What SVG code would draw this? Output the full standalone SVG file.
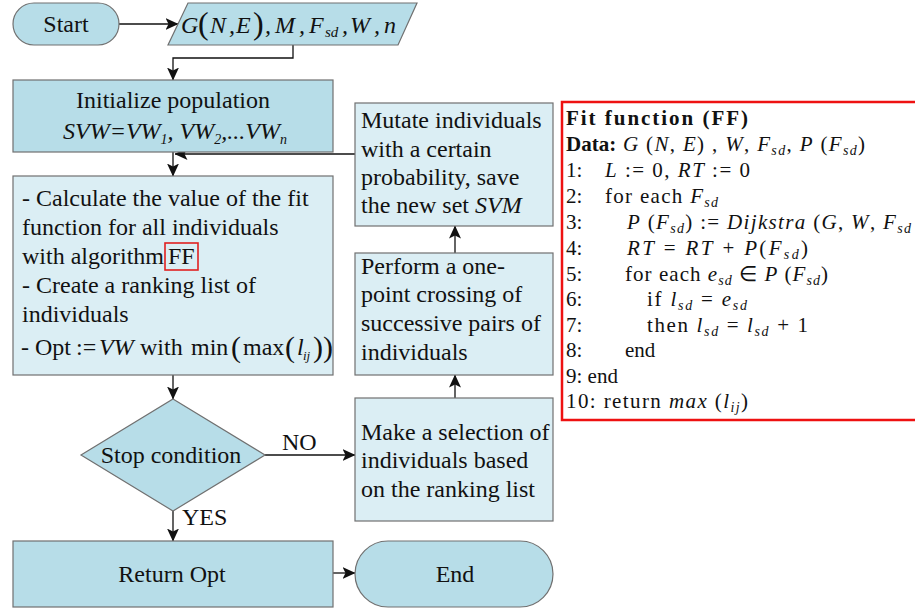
<svg xmlns="http://www.w3.org/2000/svg" width="915" height="608" viewBox="0 0 915 608">
<style>
.dk{fill:#b7dde8;stroke:#707070;stroke-width:1.2}
.lt{fill:#dbeef4;stroke:#707070;stroke-width:1.2}
.t{font-family:"Liberation Serif","Times New Roman",serif;font-size:24px;fill:#111}
.m{font-family:"Liberation Serif","Times New Roman",serif;font-size:21px;fill:#111}
.it{font-style:italic}
.b{font-weight:bold}
.sub{font-size:14px;baseline-shift:-5px}
.subs{font-size:14px;baseline-shift:-4px;font-style:italic}
.c{text-anchor:middle}
.ln{fill:none;stroke:#111;stroke-width:1.3}
</style>
<defs>
<marker id="arr" viewBox="0 0 13 12" refX="12.5" refY="6" markerWidth="13" markerHeight="12" markerUnits="userSpaceOnUse" orient="auto">
<path d="M0,0 L13,6 L0,12 L3,6 z" fill="#111"/>
</marker>
</defs>

<g id="connectors">
<path class="ln" d="M119,24 H178" marker-end="url(#arr)"/>
<path class="ln" d="M293,45 V58 H173 V80" marker-end="url(#arr)"/>
<path class="ln" d="M173,152 V176" marker-end="url(#arr)"/>
<path class="ln" d="M355,154 H175" marker-end="url(#arr)"/>
<path class="ln" d="M173,375 V399" marker-end="url(#arr)"/>
<path class="ln" d="M265,455 H355" marker-end="url(#arr)"/>
<path class="ln" d="M455,398 V375" marker-end="url(#arr)"/>
<path class="ln" d="M455,253 V226" marker-end="url(#arr)"/>
<path class="ln" d="M173,511 V541" marker-end="url(#arr)"/>
<path class="ln" d="M333,573 H355" marker-end="url(#arr)"/>
<text class="t" x="282" y="450">NO</text>
<text class="t" x="182" y="525">YES</text>
</g>

<g id="start">
<rect class="dk" x="13" y="3" width="106" height="42" rx="21" ry="21"/>
<text class="t c" x="66" y="32">Start</text>
</g>

<g id="input">
<polygon class="dk" points="188,3 417,3 398,45 168,45"/>
<text class="t it" y="33"><tspan x="181">G</tspan><tspan x="198" font-size="32" font-style="normal" dy="1">(</tspan><tspan x="210" dy="-1">N</tspan><tspan x="229">,</tspan><tspan x="236">E</tspan><tspan x="253" font-size="32" font-style="normal" dy="1">)</tspan><tspan x="265" dy="-1">,</tspan><tspan x="275">M</tspan><tspan x="299">,</tspan><tspan x="309">F</tspan><tspan x="325" font-size="15" dy="4">sd</tspan><tspan x="342" dy="-4">,</tspan><tspan x="350">W</tspan><tspan x="374">,</tspan><tspan x="384">n</tspan></text>
</g>

<g id="init">
<rect class="dk" x="13" y="80" width="320" height="72"/>
<text class="t c" x="173" y="108">Initialize population</text>
<text class="t c it" x="175" y="139">SVW=VW<tspan class="sub">1</tspan>, VW<tspan class="sub">2</tspan>,...VW<tspan class="sub">n</tspan></text>
</g>

<g id="calc">
<rect class="lt" x="13" y="176" width="320" height="199"/>
<text class="t" x="22" y="206">- Calculate the value of the fit</text>
<text class="t" x="22" y="235">function for all individuals</text>
<text class="t" x="22" y="264">with algorithm <tspan x="168">FF</tspan></text>
<rect x="165" y="243" width="33" height="27" fill="none" stroke="#e02020" stroke-width="1.6"/>
<text class="t" x="22" y="293">- Create a ranking list of</text>
<text class="t" x="22" y="322">individuals</text>
<text class="t" y="355"><tspan x="21">- Opt</tspan><tspan x="76">:=</tspan><tspan x="99" class="it">VW</tspan><tspan x="140">with</tspan><tspan x="191">min</tspan><tspan x="231" font-size="30" dy="2">(</tspan><tspan x="243" dy="-2">max</tspan><tspan x="285" font-size="30" dy="2">(</tspan><tspan x="297" dy="-2" class="it">l</tspan><tspan x="303" class="it" font-size="13" dy="5">ij</tspan><tspan x="313" font-size="30" dy="-3">))</tspan></text>
</g>

<g id="stop">
<polygon class="dk" points="173,399 265,455 173,511 81,455"/>
<text class="t c" x="171" y="463">Stop condition</text>
</g>

<g id="select">
<rect class="lt" x="355" y="398" width="198" height="123"/>
<text class="t" x="361" y="440">Make a selection of</text>
<text class="t" x="361" y="468">individuals based</text>
<text class="t" x="361" y="497">on the ranking list</text>
</g>

<g id="perform">
<rect class="lt" x="355" y="253" width="198" height="122"/>
<text class="t" x="361" y="274">Perform a one-</text>
<text class="t" x="361" y="302">point crossing of</text>
<text class="t" x="361" y="331">successive pairs of</text>
<text class="t" x="361" y="360">individuals</text>
</g>

<g id="mutate">
<rect class="lt" x="355" y="103" width="198" height="123"/>
<text class="t" x="361" y="128">Mutate individuals</text>
<text class="t" x="361" y="157">with a certain</text>
<text class="t" x="361" y="185">probability, save</text>
<text class="t" x="361" y="213">the new set <tspan class="it">SVM</tspan></text>
</g>

<g id="return">
<rect class="dk" x="13" y="541" width="320" height="66"/>
<text class="t c" x="172" y="582">Return Opt</text>
</g>

<g id="end">
<rect class="dk" x="355" y="541" width="198" height="66" rx="33" ry="33"/>
<text class="t c" x="455" y="582">End</text>
</g>

<g id="ff">
<rect x="562" y="102" width="370" height="318" fill="#fff" stroke="#ee1111" stroke-width="2.5"/>
<text class="m b" x="566" y="125" font-size="22" textLength="182" lengthAdjust="spacing">Fit function (FF)</text>
<text class="m b" x="566" y="151">Data:</text>
<text class="m" x="623" y="151" textLength="242" lengthAdjust="spacing"><tspan class="it">G</tspan> (<tspan class="it">N</tspan>, <tspan class="it">E</tspan>) , <tspan class="it">W</tspan>, <tspan class="it">F</tspan><tspan class="subs">sd</tspan>, <tspan class="it">P</tspan> (<tspan class="it">F</tspan><tspan class="subs">sd</tspan>)</text>
<text class="m" x="566" y="177">1:</text>
<text class="m" x="605" y="177" textLength="145" lengthAdjust="spacing"><tspan class="it">L</tspan> := 0, <tspan class="it">RT</tspan> := 0</text>
<text class="m" x="566" y="203">2:</text>
<text class="m" x="605" y="203" textLength="113" lengthAdjust="spacing">for each <tspan class="it">F</tspan><tspan class="subs">sd</tspan></text>
<text class="m" x="566" y="229">3:</text>
<text class="m" x="627" y="229" textLength="284" lengthAdjust="spacing"><tspan class="it">P</tspan> (<tspan class="it">F</tspan><tspan class="subs">sd</tspan>) := <tspan class="it">Dijkstra</tspan> (<tspan class="it">G</tspan>, <tspan class="it">W</tspan>, <tspan class="it">F</tspan><tspan class="subs">sd</tspan></text>
<text class="m" x="566" y="255">4:</text>
<text class="m" x="627" y="255" textLength="181" lengthAdjust="spacing"><tspan class="it">RT</tspan> = <tspan class="it">RT</tspan> + <tspan class="it">P</tspan>(<tspan class="it">F</tspan><tspan class="subs">sd</tspan>)</text>
<text class="m" x="566" y="281">5:</text>
<text class="m" x="625" y="281" textLength="203" lengthAdjust="spacing">for each <tspan class="it">e</tspan><tspan class="subs">sd</tspan> ∈ <tspan class="it">P</tspan> (<tspan class="it">F</tspan><tspan class="subs">sd</tspan>)</text>
<text class="m" x="566" y="306">6:</text>
<text class="m" x="647" y="306" textLength="100" lengthAdjust="spacing">if <tspan class="it">l</tspan><tspan class="subs">sd</tspan> = <tspan class="it">e</tspan><tspan class="subs">sd</tspan></text>
<text class="m" x="566" y="332">7:</text>
<text class="m" x="647" y="332" textLength="161" lengthAdjust="spacing">then <tspan class="it">l</tspan><tspan class="subs">sd</tspan> = <tspan class="it">l</tspan><tspan class="subs">sd</tspan> + 1</text>
<text class="m" x="566" y="357">8:</text>
<text class="m" x="625" y="357">end</text>
<text class="m" x="566" y="383">9: end</text>
<text class="m" x="566" y="408" textLength="182" lengthAdjust="spacing">10: return <tspan class="it">max</tspan> (<tspan class="it">l</tspan><tspan class="subs">ij</tspan>)</text>
</g>
</svg>
